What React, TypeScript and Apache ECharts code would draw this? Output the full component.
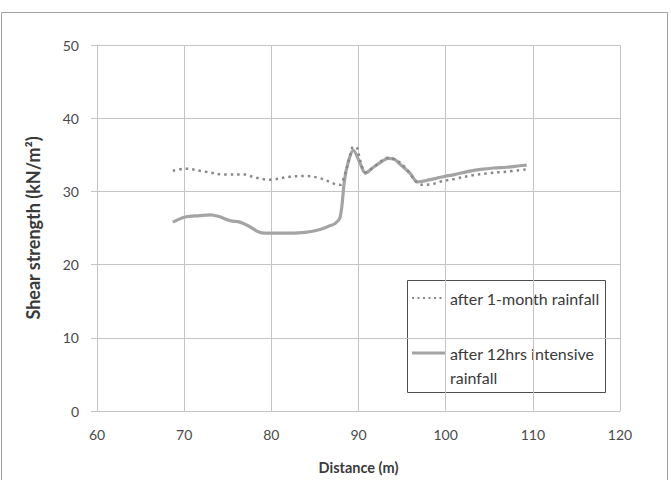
import React, { useEffect, useRef } from "react";
import * as echarts from "echarts";

// Distance along the section (m) and shear strength (kN/m²)
const monthDistance = [68.7, 70.1, 72.4, 74.7, 77.0, 78.1, 79.8, 82.1, 83.9, 85.6, 87.3, 87.9, 88.4, 89.0, 89.4, 89.8, 90.2, 90.8, 91.6, 92.7, 93.4, 94.1, 94.7, 95.6, 96.7, 97.4, 98.5, 99.3, 101.0, 103.1, 105.0, 107.0, 109.3];
const monthStrength = [32.8, 33.1, 32.7, 32.3, 32.3, 31.9, 31.6, 32.0, 32.1, 31.8, 31.0, 30.9, 32.2, 34.7, 36.1, 36.0, 34.2, 32.6, 33.2, 34.2, 34.6, 34.4, 34.0, 32.9, 31.2, 30.9, 31.0, 31.3, 31.7, 32.2, 32.5, 32.7, 33.0];

const rainDistance = [68.7, 70.1, 71.8, 73.0, 73.9, 75.3, 76.4, 77.5, 78.5, 79.3, 82.1, 83.9, 85.6, 86.7, 87.3, 87.9, 88.4, 88.8, 89.4, 90.2, 90.8, 91.6, 92.7, 93.4, 94.1, 94.7, 95.9, 96.8, 98.2, 99.7, 101.0, 102.5, 104.0, 105.5, 107.0, 108.5, 109.3];
const rainStrength = [25.8, 26.5, 26.7, 26.8, 26.6, 26.0, 25.8, 25.2, 24.5, 24.3, 24.3, 24.4, 24.8, 25.3, 25.6, 26.5, 31.6, 33.9, 35.6, 33.8, 32.5, 33.2, 34.1, 34.5, 34.4, 33.8, 32.5, 31.3, 31.6, 32.0, 32.3, 32.7, 33.0, 33.2, 33.3, 33.5, 33.6];

const seriesNames = ["after 1-month rainfall", "after 12hrs intensive rainfall"];
const xTitle = "Distance (m)";
const yTitle = "Shear strength (kN/m²)";

const FONT = "Lato, 'Liberation Sans', sans-serif";
const GRID_COLOR = "#c4c4c4";
const LABEL_COLOR = "#4a4a4a";
const TITLE_COLOR = "#3a3a3a";

export default function App() {
  const ref = useRef<HTMLDivElement>(null);

  useEffect(() => {
    if (!ref.current) return;
    const chart = echarts.init(ref.current, null, { renderer: "svg" });

    const pairs = (xs: number[], ys: number[]) => xs.map((x, i) => [x, ys[i]]);

    chart.setOption({
      animation: false,
      backgroundColor: "#ffffff",
      textStyle: { fontFamily: FONT },
      grid: { left: 97, right: 51, top: 45, bottom: 69 },
      xAxis: {
        type: "value",
        min: 60,
        max: 120,
        interval: 10,
        name: xTitle,
        nameLocation: "middle",
        nameGap: 49,
        nameTextStyle: { fontFamily: FONT, fontSize: 14.5, fontWeight: "bold", color: TITLE_COLOR },
        axisLine: { show: true, lineStyle: { color: GRID_COLOR, width: 1 } },
        axisTick: { show: false },
        axisLabel: { color: LABEL_COLOR, fontSize: 14, margin: 16, fontFamily: FONT },
        splitLine: { show: true, lineStyle: { color: GRID_COLOR, width: 1 } },
      },
      yAxis: {
        type: "value",
        min: 0,
        max: 50,
        interval: 10,
        name: yTitle,
        nameLocation: "middle",
        nameGap: 55,
        nameTextStyle: { fontFamily: FONT, fontSize: 18, fontWeight: "bold", color: TITLE_COLOR },
        axisLine: { show: true, lineStyle: { color: GRID_COLOR, width: 1 } },
        axisTick: { show: true, inside: false, length: 6, lineStyle: { color: GRID_COLOR } },
        axisLabel: { color: LABEL_COLOR, fontSize: 14, margin: 18, fontFamily: FONT },
        splitLine: { show: true, lineStyle: { color: GRID_COLOR, width: 1 } },
      },
      series: [
        {
          name: seriesNames[0],
          type: "line",
          data: pairs(monthDistance, monthStrength),
          smooth: 0.35,
          showSymbol: false,
          z: 3,
          lineStyle: { color: "#888888", width: 2.5, type: [2.5, 4] },
        },
        {
          name: seriesNames[1],
          type: "line",
          data: pairs(rainDistance, rainStrength),
          smooth: 0.35,
          showSymbol: false,
          z: 2,
          lineStyle: { color: "#a4a4a4", width: 3.2 },
        },
      ],
      graphic: [
        // outer chart frame
        {
          type: "polyline",
          shape: { points: [[1.5, 480], [1.5, 12.5], [667.5, 12.5], [667.5, 480]] },
          style: { fill: "none", stroke: "#a0a0a0", lineWidth: 1 },
          silent: true,
        },
        // legend box
        {
          type: "group",
          x: 407,
          y: 280,
          children: [
            {
              type: "rect",
              shape: { x: 0.5, y: 0.5, width: 198, height: 112 },
              style: { fill: "#ffffff", stroke: "#4d4d4d", lineWidth: 1 },
            },
            {
              type: "line",
              shape: { x1: 5, y1: 18, x2: 38, y2: 18 },
              style: { stroke: "#888888", lineWidth: 2, lineDash: [2, 3.5] },
            },
            {
              type: "text",
              x: 43,
              y: 18,
              style: { text: seriesNames[0], font: `16px ${FONT}`, fill: TITLE_COLOR, verticalAlign: "middle" },
            },
            {
              type: "line",
              shape: { x1: 5, y1: 73, x2: 38, y2: 73 },
              style: { stroke: "#a4a4a4", lineWidth: 3 },
            },
            {
              type: "text",
              x: 43,
              y: 73,
              style: { text: "after 12hrs intensive", font: `16px ${FONT}`, fill: TITLE_COLOR, verticalAlign: "middle" },
            },
            {
              type: "text",
              x: 43,
              y: 97,
              style: { text: "rainfall", font: `16px ${FONT}`, fill: TITLE_COLOR, verticalAlign: "middle" },
            },
          ],
        },
      ],
    });

    return () => chart.dispose();
  }, []);

  return <div ref={ref} style={{ position: "absolute", left: 0, top: 0, width: 671, height: 480 }} />;
}
